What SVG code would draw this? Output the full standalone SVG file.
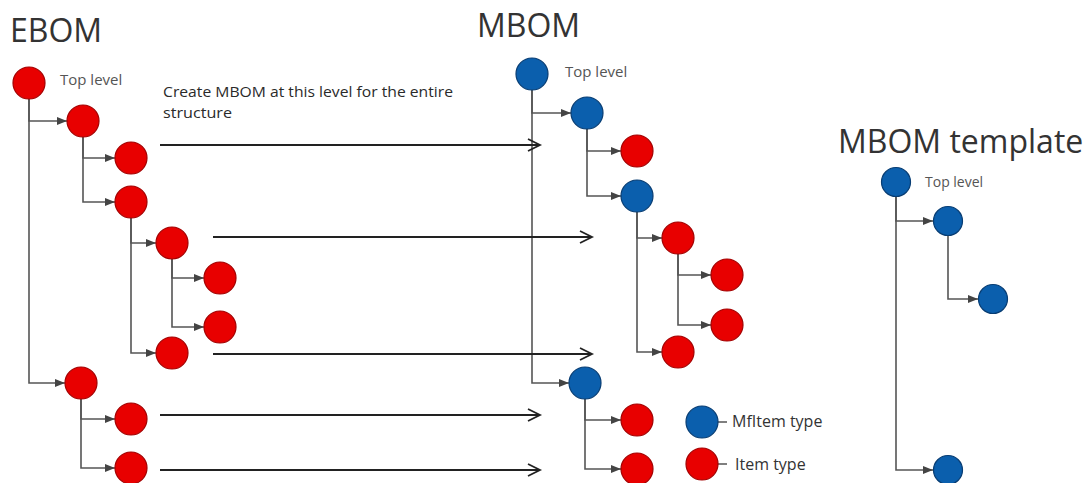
<svg xmlns="http://www.w3.org/2000/svg" width="1089" height="483" viewBox="0 0 1089 483">
<defs>
<style>
.title{font-family:"Open Sans","Noto Sans",sans-serif;font-size:32px;fill:#333}
.lbl{font-family:"Open Sans","Noto Sans",sans-serif;font-size:15px;fill:#555}
.note{font-family:"Open Sans","Noto Sans",sans-serif;font-size:15px;fill:#2a2a2a}
.leg{font-family:"Open Sans","Noto Sans",sans-serif;font-size:16px;fill:#333}
.red{fill:#e80000;stroke:#a30000;stroke-width:1.2}
.blue{fill:#0b5fad;stroke:#083d73;stroke-width:1.2}
.br{fill:none;stroke:#555;stroke-width:1.6;marker-end:url(#tri)}
.long{fill:none;stroke:#222;stroke-width:1.8}
.head{fill:none;stroke:#222;stroke-width:1.8;stroke-linejoin:miter}
</style>
<marker id="tri" markerUnits="userSpaceOnUse" markerWidth="10" markerHeight="10" viewBox="0 0 10 10" refX="10" refY="5" orient="auto">
<path d="M0,1 L10,5 L0,9 Z" fill="#444"/>
</marker>
</defs>
<rect width="1089" height="483" fill="#fff"/>

<g id="titles">
<text class="title" x="10" y="42">EBOM</text>
<text class="title" x="477" y="37">MBOM</text>
<text class="title" x="838" y="153">MBOM template</text>
</g>

<g id="connectors">
<path class="br" d="M29,99 V121 H67"/>
<path class="br" d="M29,99 V383 H65"/>
<path class="br" d="M83,137 V158 H115"/>
<path class="br" d="M83,137 V202 H115"/>
<path class="br" d="M131,218 V243 H156"/>
<path class="br" d="M131,218 V353 H156"/>
<path class="br" d="M172,259 V278 H204"/>
<path class="br" d="M172,259 V327 H204"/>
<path class="br" d="M81,399 V419 H115"/>
<path class="br" d="M81,399 V468 H115"/>
<path class="br" d="M532,90 V113 H571"/>
<path class="br" d="M532,90 V383 H569"/>
<path class="br" d="M587,129 V151 H621"/>
<path class="br" d="M587,129 V196 H621"/>
<path class="br" d="M637,212 V238 H662"/>
<path class="br" d="M637,212 V352 H662"/>
<path class="br" d="M678,254 V275 H711"/>
<path class="br" d="M678,254 V325 H711"/>
<path class="br" d="M585,399 V420 H621"/>
<path class="br" d="M585,399 V469 H621"/>
<path class="br" d="M896,196 V221 H933"/>
<path class="br" d="M896,196 V470 H933"/>
<path class="br" d="M948,235 V299 H978"/>
<path class="long" d="M160,145 H540"/><path class="head" d="M528,139 L540,145 L528,151"/>
<path class="long" d="M213,237 H592"/><path class="head" d="M580,231 L592,237 L580,243"/>
<path class="long" d="M213,354 H592"/><path class="head" d="M580,348 L592,354 L580,360"/>
<path class="long" d="M160,415 H540"/><path class="head" d="M528,409 L540,415 L528,421"/>
<path class="long" d="M160,470 H540"/><path class="head" d="M528,464 L540,470 L528,476"/>
<path d="M718,422 H727 M718,464 H727" stroke="#555" stroke-width="1.4"/>
</g>

<g id="ebom-nodes">
<g id="e1"><circle class="red" cx="29" cy="83" r="16"/><text class="lbl" x="60" y="85">Top level</text></g>
<g id="e2"><circle class="red" cx="83" cy="121" r="16"/></g>
<g id="e3"><circle class="red" cx="131" cy="158" r="16"/></g>
<g id="e4"><circle class="red" cx="131" cy="202" r="16"/></g>
<g id="e5"><circle class="red" cx="172" cy="243" r="16"/></g>
<g id="e6"><circle class="red" cx="220" cy="278" r="16"/></g>
<g id="e7"><circle class="red" cx="220" cy="327" r="16"/></g>
<g id="e8"><circle class="red" cx="172" cy="353" r="16"/></g>
<g id="e9"><circle class="red" cx="81" cy="383" r="16"/></g>
<g id="e10"><circle class="red" cx="131" cy="419" r="16"/></g>
<g id="e11"><circle class="red" cx="131" cy="468" r="16"/></g>
</g>

<g id="note">
<text class="note" x="163" y="97" textLength="290" lengthAdjust="spacingAndGlyphs">Create MBOM at this level for the entire</text>
<text class="note" x="163" y="118" textLength="69" lengthAdjust="spacingAndGlyphs">structure</text>
</g>

<g id="mbom-nodes">
<g id="m1"><circle class="blue" cx="532" cy="74" r="16"/><text class="lbl" x="565" y="77">Top level</text></g>
<g id="m2"><circle class="blue" cx="587" cy="113" r="16"/></g>
<g id="m3"><circle class="red" cx="637" cy="151" r="16"/></g>
<g id="m4"><circle class="blue" cx="637" cy="196" r="16"/></g>
<g id="m5"><circle class="red" cx="678" cy="238" r="16"/></g>
<g id="m6"><circle class="red" cx="727" cy="275" r="16"/></g>
<g id="m7"><circle class="red" cx="727" cy="325" r="16"/></g>
<g id="m8"><circle class="red" cx="678" cy="352" r="16"/></g>
<g id="m9"><circle class="blue" cx="585" cy="383" r="16"/></g>
<g id="m10"><circle class="red" cx="637" cy="420" r="16"/></g>
<g id="m11"><circle class="red" cx="637" cy="469" r="16"/></g>
</g>

<g id="template-nodes">
<g id="t1"><circle class="blue" cx="896" cy="182" r="14.5"/><text class="lbl" x="925" y="187" style="font-size:14px">Top level</text></g>
<g id="t2"><circle class="blue" cx="948" cy="221" r="14.5"/></g>
<g id="t3"><circle class="blue" cx="993" cy="299" r="14.5"/></g>
<g id="t4"><circle class="blue" cx="948" cy="470" r="14.5"/></g>
</g>

<g id="legend">
<g id="leg-mf"><circle class="blue" cx="702" cy="422" r="16"/><text class="leg" x="732" y="427">MfItem type</text></g>
<g id="leg-item"><circle class="red" cx="702" cy="464" r="16"/><text class="leg" x="735" y="470">Item type</text></g>
</g>
</svg>
